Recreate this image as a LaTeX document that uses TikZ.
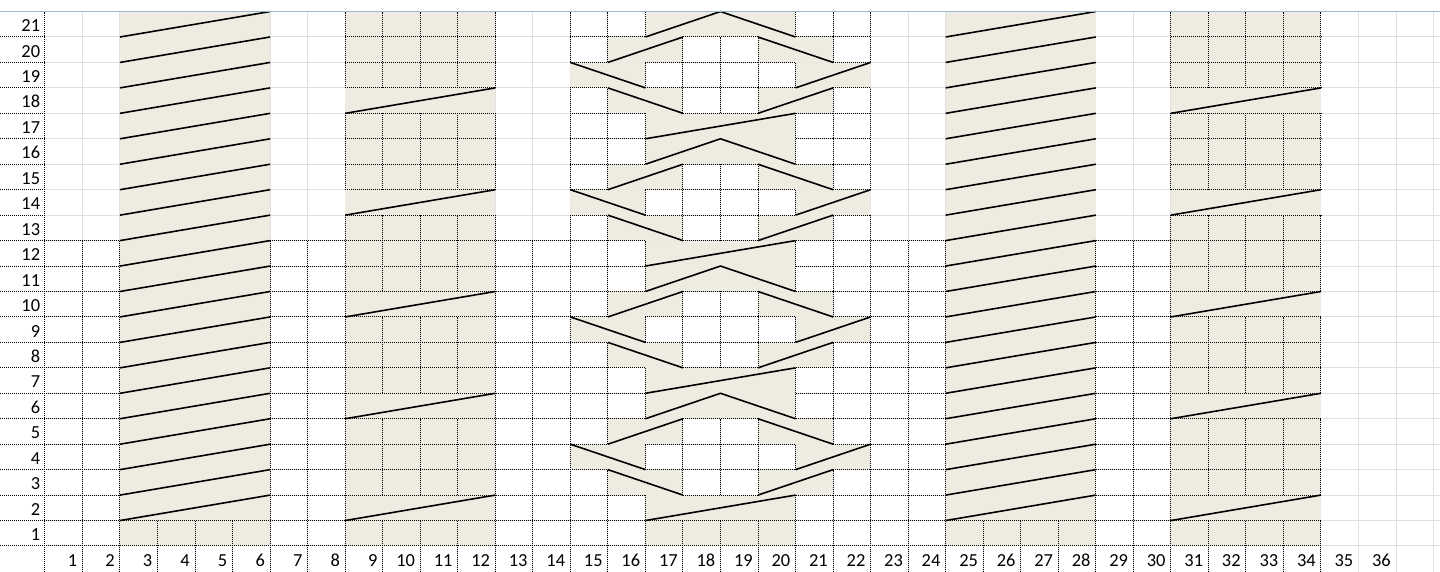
\documentclass[tikz,border=0pt]{standalone}
\usepackage{fontspec}
\setmainfont{Carlito}
\definecolor{chartbeige}{RGB}{238,236,225}
\definecolor{gridgrey}{RGB}{222,224,226}
\definecolor{headline}{RGB}{158,182,205}
\tikzset{
  gridline/.style={draw=gridgrey, line width=0.5pt},
  brd/.style={draw=black, line width=0.5pt, dash pattern=on 0.5pt off 0.5pt},
  yarn/.style={draw=black, line width=0.8pt},
  lbl/.style={font=\fontsize{9.2}{10}\selectfont, inner sep=0pt, anchor=base east},
}
\begin{document}
\begin{tikzpicture}[x=18.765pt, y=12.725pt]
\useasboundingbox (-1.1974,-1.0216) rectangle (37.172,21.454);
\fill[white] (-1.1974,-1.0216) rectangle (37.172,21.454);

\foreach \x in {1,...,37} \draw[gridline] (\x,-1.0216) -- (\x,21);
\foreach \y in {0,...,20} \draw[gridline] (0,\y) -- (37.172,\y);

\foreach \x in {2,8,24,30} \fill[chartbeige] (\x,0) rectangle ++(4,21);
\fill[chartbeige] (16,0) rectangle (20,1);
\foreach \r in {2,7,12,17} {
  \fill[chartbeige] (16,\r-1) rectangle (20,\r);
  \fill[chartbeige] (15,\r) rectangle (17,\r+1) (19,\r) rectangle (21,\r+1);
  \fill[chartbeige] (14,\r+1) rectangle (16,\r+2) (20,\r+1) rectangle (22,\r+2);
  \fill[chartbeige] (15,\r+2) rectangle (17,\r+3) (19,\r+2) rectangle (21,\r+3);
  \fill[chartbeige] (16,\r+3) rectangle (20,\r+4);
}

\foreach \k in {0,1} \draw[brd] (-1.1974,\k) -- (34,\k);
\foreach \k in {2,...,12}
  \draw[brd] (-1.1974,\k) -- (2,\k) (6,\k) -- (15,\k) (21,\k) -- (24,\k) (28,\k) -- (34,\k);
\foreach \k in {13,...,20}
  \draw[brd] (-1.1974,\k) -- (0,\k) (8,\k) -- (12,\k) (14,\k) -- (15,\k) (21,\k) -- (22,\k) (30,\k) -- (34,\k);
\foreach \k in {2,5,6,7,10,11,12,15,16,17,20}
  \draw[brd] (15,\k) -- (16,\k) (20,\k) -- (21,\k);
\foreach \k in {3,4,8,9,13,14,18,19}
  \draw[brd] (16,\k) -- (17,\k) (19,\k) -- (20,\k);
\foreach \k in {2,3,4,5,7,8,9,10,12,13,14,15,17,18,19,20}
  \draw[brd] (17,\k) -- (19,\k);

\draw[brd] (0,-1.0216) -- (0,21);
\foreach \x in {1,...,34} \draw[brd] (\x,-1.0216) -- (\x,0);
\foreach \x in {1,2,6,7,13,23,24,28,29} \draw[brd] (\x,0) -- (\x,12);
\foreach \x in {3,4,5,25,26,27} \draw[brd] (\x,0) -- (\x,1);
\foreach \x in {8,12,30} \draw[brd] (\x,0) -- (\x,13) (\x,14) -- (\x,17) (\x,18) -- (\x,21);
\foreach \x in {9,10,11,31,32,33,34}
  \draw[brd] (\x,0) -- (\x,1) (\x,2) -- (\x,5) (\x,6) -- (\x,9) (\x,10) -- (\x,13) (\x,14) -- (\x,17) (\x,18) -- (\x,21);
\foreach \x in {14,22} \draw[brd] (\x,0) -- (\x,13) (\x,14) -- (\x,18) (\x,19) -- (\x,21);
\foreach \x in {15,21}
  \draw[brd] (\x,0) -- (\x,3) (\x,4) -- (\x,8) (\x,9) -- (\x,13) (\x,14) -- (\x,18) (\x,19) -- (\x,21);
\foreach \x in {16,20}
  \draw[brd] (\x,0) -- (\x,2) (\x,3) -- (\x,4) (\x,5) -- (\x,7) (\x,8) -- (\x,9) (\x,10) -- (\x,12)
             (\x,13) -- (\x,14) (\x,15) -- (\x,17) (\x,18) -- (\x,19) (\x,20) -- (\x,21);
\foreach \x in {17,18,19}
  \draw[brd] (\x,0) -- (\x,1) (\x,2) -- (\x,5) (\x,7) -- (\x,10) (\x,12) -- (\x,15) (\x,17) -- (\x,20);

\foreach \x in {2,24} \foreach \r in {2,...,21} \draw[yarn] (\x,\r-1) -- (\x+4,\r);
\foreach \x in {8,30} \foreach \r in {2,6,10,14,18} \draw[yarn] (\x,\r-1) -- (\x+4,\r);
\foreach \r in {2,7,12,17} {
  \draw[yarn] (16,\r-1) -- (20,\r);
  \draw[yarn] (15,\r+1) -- (17,\r) (19,\r) -- (21,\r+1);
  \draw[yarn] (14,\r+2) -- (16,\r+1) (20,\r+1) -- (22,\r+2);
  \draw[yarn] (15,\r+2) -- (17,\r+3) (19,\r+3) -- (21,\r+2);
  \draw[yarn] (16,\r+3) -- (18,\r+4) -- (20,\r+3);
}

\foreach \r in {1,...,21} \node[lbl] (row\r) at (-0.118,\r-0.79) {\r};
\foreach \c in {1,...,36} \node[lbl] (col\c) at (\c-0.13,-0.825) {\c};

\draw[headline, line width=0.5pt] (-1.1974,21) -- (37.172,21);
\end{tikzpicture}
\end{document}
